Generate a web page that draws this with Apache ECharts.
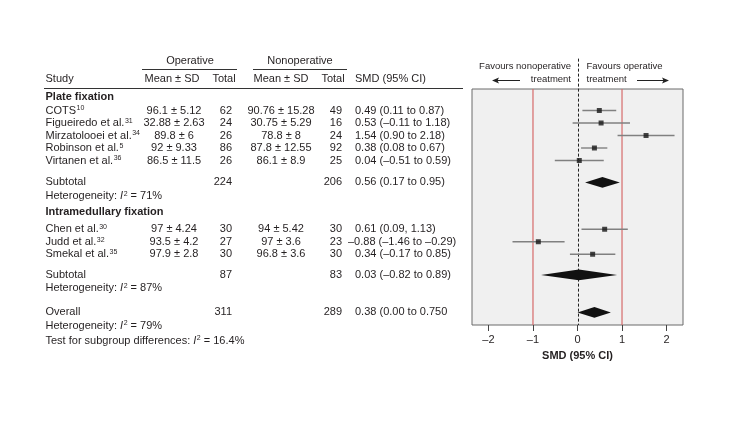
<!DOCTYPE html>
<html><head><meta charset="utf-8">
<script src="https://cdn.jsdelivr.net/npm/echarts@6/dist/echarts.min.js"></script>
<style>html,body{margin:0;padding:0;background:#fff}#c{width:746px;height:421px}</style>
</head><body><div id="c"></div>
<script>
// ---------------- DATA ----------------
const studyNames = ['COTS', 'Figueiredo et al.', 'Mirzatolooei et al.', 'Robinson et al.', 'Virtanen et al.', 'Chen et al.', 'Judd et al.', 'Smekal et al.'];
const studyRefs = ['10', '31', '34', '5', '36', '30', '32', '35'];
const groupNames = ['Plate fixation', 'Intramedullary fixation'];
const opMeanSD = ['96.1 ± 5.12', '32.88 ± 2.63', '89.8 ± 6', '92 ± 9.33', '86.5 ± 11.5', '97 ± 4.24', '93.5 ± 4.2', '97.9 ± 2.8'];
const opTotal = [62, 24, 26, 86, 26, 30, 27, 30];
const nonMeanSD = ['90.76 ± 15.28', '30.75 ± 5.29', '78.8 ± 8', '87.8 ± 12.55', '86.1 ± 8.9', '94 ± 5.42', '97 ± 3.6', '96.8 ± 3.6'];
const nonTotal = [49, 16, 24, 92, 25, 30, 23, 30];
const smd = [0.49, 0.53, 1.54, 0.38, 0.04, 0.61, -0.88, 0.34];
const ciLow = [0.11, -0.11, 0.90, 0.08, -0.51, 0.09, -1.46, -0.17];
const ciHigh = [0.87, 1.18, 2.18, 0.67, 0.59, 1.13, -0.29, 0.85];
const smdLabel = ['0.49 (0.11 to 0.87)', '0.53 (–0.11 to 1.18)', '1.54 (0.90 to 2.18)', '0.38 (0.08 to 0.67)', '0.04 (–0.51 to 0.59)', '0.61 (0.09, 1.13)', '–0.88 (–1.46 to –0.29)', '0.34 (–0.17 to 0.85)'];
const poolNames = ['Subtotal', 'Subtotal', 'Overall'];
const poolOpTotal = [224, 87, 311];
const poolNonTotal = [206, 83, 289];
const poolSmd = [0.56, 0.03, 0.38];
const poolLow = [0.17, -0.82, 0.00];
const poolHigh = [0.95, 0.89, 0.75];
const poolLabel = ['0.56 (0.17 to 0.95)', '0.03 (–0.82 to 0.89)', '0.38 (0.00 to 0.750'];
const hetI2 = ['71%', '87%', '79%'];
const subgroupDiffI2 = '16.4%';
const xTicks = [-2, -1, 0, 1, 2];
const refLines = [-1, 1];

// ---------------- LAYOUT ----------------
const studyRow = [0, 1, 2, 3, 4, 9.5, 10.5, 11.5];
const poolRow = [5.75, 13.15, 16.15];
const hetRow = [6.85, 14.2, 17.2];
const groupRow = [-1.05, 8.15];
const testRow = 18.4;
const Y_MIN = -1.72, Y_MAX = 17.16;
const FONT = "'Liberation Sans', Arial, Helvetica, sans-serif";
const INK = '#231f20';
const COL = { study: 45.5, opMean: 174, opTotal: 232, nonMean: 281, nonTotal: 342, smd: 355 };

const rich = {
  sup: { fontSize: 7, fontFamily: FONT, fill: INK, verticalAlign: 'top', padding: [0, 0, 0, 0.5] },
  it: { fontSize: 11, fontFamily: FONT, fill: INK, fontStyle: 'italic' }
};

const cells = [];
function cell(x, y, text, align, extra) { cells.push(Object.assign({ x, y, text, align: align || 'left' }, extra || {})); }
// headers
cell(190, -3.95, 'Operative', 'center');
cell(300, -3.95, 'Nonoperative', 'center');
cell(COL.study, -2.5, 'Study');
cell(172, -2.5, 'Mean ± SD', 'center');
cell(224, -2.5, 'Total', 'center');
cell(281, -2.5, 'Mean ± SD', 'center');
cell(333, -2.5, 'Total', 'center');
cell(COL.smd, -2.5, 'SMD (95% CI)');
groupNames.forEach((g, i) => cell(COL.study, groupRow[i], g, 'left', { bold: true }));
studyNames.forEach((n, i) => {
  const y = studyRow[i];
  cell(COL.study, y, n + '{sup|' + studyRefs[i] + '}');
  cell(COL.opMean, y, opMeanSD[i], 'center');
  cell(COL.opTotal, y, String(opTotal[i]), 'right');
  cell(COL.nonMean, y, nonMeanSD[i], 'center');
  cell(COL.nonTotal, y, String(nonTotal[i]), 'right');
  cell(COL.smd - (smdLabel[i][0] === '–' ? 7 : 0), y, smdLabel[i]);
});
poolNames.forEach((n, i) => {
  const y = poolRow[i];
  cell(COL.study, y, n);
  cell(COL.opTotal, y, String(poolOpTotal[i]), 'right');
  cell(COL.nonTotal, y, String(poolNonTotal[i]), 'right');
  cell(COL.smd, y, poolLabel[i]);
  cell(COL.study, hetRow[i], 'Heterogeneity: {it|I}{sup|2} = ' + hetI2[i]);
});
cell(COL.study, testRow, 'Test for subgroup differences: {it|I}{sup|2} = ' + subgroupDiffI2);
cell(571, -3.5, 'Favours nonoperative', 'right', { size: 9.5 });
cell(571, -2.52, 'treatment', 'right', { size: 9.5 });
cell(586.5, -3.5, 'Favours operative', 'left', { size: 9.5 });
cell(586.5, -2.52, 'treatment', 'left', { size: 9.5 });

const rules = [[142, 237, -3.3], [253, 347, -3.3], [44, 463, -1.78]];
const arrows = [[520, 492, -2.45], [637, 669, -2.45]];

const chart = echarts.init(document.getElementById('c'), null, { renderer: 'canvas' });
chart.setOption({
  animation: false,
  grid: [
    { left: 472, top: 89, width: 211, height: 236, show: true, backgroundColor: '#f0f0f0', borderColor: '#6a6a6a', borderWidth: 1 },
    { left: 0, top: 89, width: 746, height: 236, show: false }
  ],
  xAxis: [
    {
      gridIndex: 0, type: 'value', min: -2.37, max: 2.37, position: 'bottom',
      splitLine: { show: false },
      axisLine: { show: false, onZero: false },
      axisTick: { show: true, customValues: xTicks, length: 6, lineStyle: { color: '#444' } },
      axisLabel: { customValues: xTicks, margin: 9, fontSize: 11, fontFamily: FONT, color: INK, formatter: v => (v < 0 ? '–' + Math.abs(v) : String(v)) },
      name: 'SMD (95% CI)', nameLocation: 'middle', nameGap: 25,
      nameTextStyle: { fontSize: 11, fontWeight: 'bold', fontFamily: FONT, color: INK }
    },
    { gridIndex: 1, type: 'value', min: 0, max: 746, show: false }
  ],
  yAxis: [
    { gridIndex: 0, type: 'value', inverse: true, min: Y_MIN, max: Y_MAX, show: false },
    { gridIndex: 1, type: 'value', inverse: true, min: Y_MIN, max: Y_MAX, show: false }
  ],
  series: [
    // reference lines
    {
      type: 'custom', xAxisIndex: 0, yAxisIndex: 0, z: 2,
      data: refLines.map(v => [v]),
      renderItem(params, api) {
        const a = api.coord([api.value(0), Y_MIN]), b = api.coord([api.value(0), Y_MAX]);
        return { type: 'line', shape: { x1: a[0], y1: a[1], x2: b[0], y2: b[1] }, style: { stroke: '#d66a6a', lineWidth: 1.2 } };
      }
    },
    // zero dashed line
    {
      type: 'custom', xAxisIndex: 0, yAxisIndex: 0, z: 3, clip: false,
      data: [[0]],
      renderItem(params, api) {
        const a = api.coord([0, -4.15]), b = api.coord([0, Y_MAX]);
        return { type: 'line', shape: { x1: Math.round(a[0]) + 0.5, y1: a[1], x2: Math.round(b[0]) + 0.5, y2: b[1] }, style: { stroke: '#222', lineWidth: 1, lineDash: [3, 2] } };
      }
    },
    // CI lines
    {
      type: 'custom', xAxisIndex: 0, yAxisIndex: 0, z: 4,
      data: studyNames.map((n, i) => [ciLow[i], ciHigh[i], studyRow[i]]),
      renderItem(params, api) {
        const a = api.coord([api.value(0), api.value(2)]), b = api.coord([api.value(1), api.value(2)]);
        return { type: 'line', shape: { x1: a[0], y1: a[1], x2: b[0], y2: b[1] }, style: { stroke: '#808080', lineWidth: 1.4 } };
      }
    },
    // point estimates
    {
      type: 'scatter', xAxisIndex: 0, yAxisIndex: 0, z: 5,
      symbol: 'rect', symbolSize: 5,
      itemStyle: { color: '#161616' },
      data: smd.map((v, i) => [v, studyRow[i]])
    },
    // diamonds
    {
      type: 'custom', xAxisIndex: 0, yAxisIndex: 0, z: 5,
      data: poolSmd.map((v, i) => [poolLow[i], v, poolHigh[i], poolRow[i]]),
      renderItem(params, api) {
        const y = api.value(3);
        const l = api.coord([api.value(0), y]), c = api.coord([api.value(1), y]), r = api.coord([api.value(2), y]);
        const h = 5.3;
        return { type: 'polygon', shape: { points: [[l[0], l[1]], [c[0], c[1] - h], [r[0], r[1]], [c[0], c[1] + h]] }, style: { fill: '#111' } };
      }
    },
    // table text
    {
      type: 'custom', xAxisIndex: 1, yAxisIndex: 1, z: 6, clip: false,
      data: cells.map(c => [c.x, c.y]),
      renderItem(params, api) {
        const c = cells[params.dataIndex];
        const p = api.coord([c.x, c.y]);
        return {
          type: 'text', x: p[0], y: p[1],
          style: {
            text: c.text, rich: rich, fill: INK, fontFamily: FONT, fontSize: c.size || 11,
            fontWeight: c.bold ? 'bold' : 'normal', align: c.align, verticalAlign: 'middle'
          }
        };
      }
    },
    // table rules
    {
      type: 'custom', xAxisIndex: 1, yAxisIndex: 1, z: 6, clip: false,
      data: rules,
      renderItem(params, api) {
        const a = api.coord([api.value(0), api.value(2)]), b = api.coord([api.value(1), api.value(2)]);
        const y = Math.round(a[1]) + 0.5;
        return { type: 'line', shape: { x1: a[0], y1: y, x2: b[0], y2: y }, style: { stroke: '#333', lineWidth: 1 } };
      }
    },
    // arrows
    {
      type: 'custom', xAxisIndex: 1, yAxisIndex: 1, z: 6, clip: false,
      data: arrows,
      renderItem(params, api) {
        const a = api.coord([api.value(0), api.value(2)]), b = api.coord([api.value(1), api.value(2)]);
        const dir = b[0] > a[0] ? 1 : -1;
        const y = Math.round(a[1]) + 0.5;
        return {
          type: 'group', children: [
            { type: 'line', shape: { x1: a[0], y1: y, x2: b[0] - dir * 4, y2: y }, style: { stroke: '#222', lineWidth: 1 } },
            { type: 'polygon', shape: { points: [[b[0], y], [b[0] - dir * 7, y - 3], [b[0] - dir * 5.5, y], [b[0] - dir * 7, y + 3]] }, style: { fill: '#222' } }
          ]
        };
      }
    }
  ]
});
</script>
</body></html>
